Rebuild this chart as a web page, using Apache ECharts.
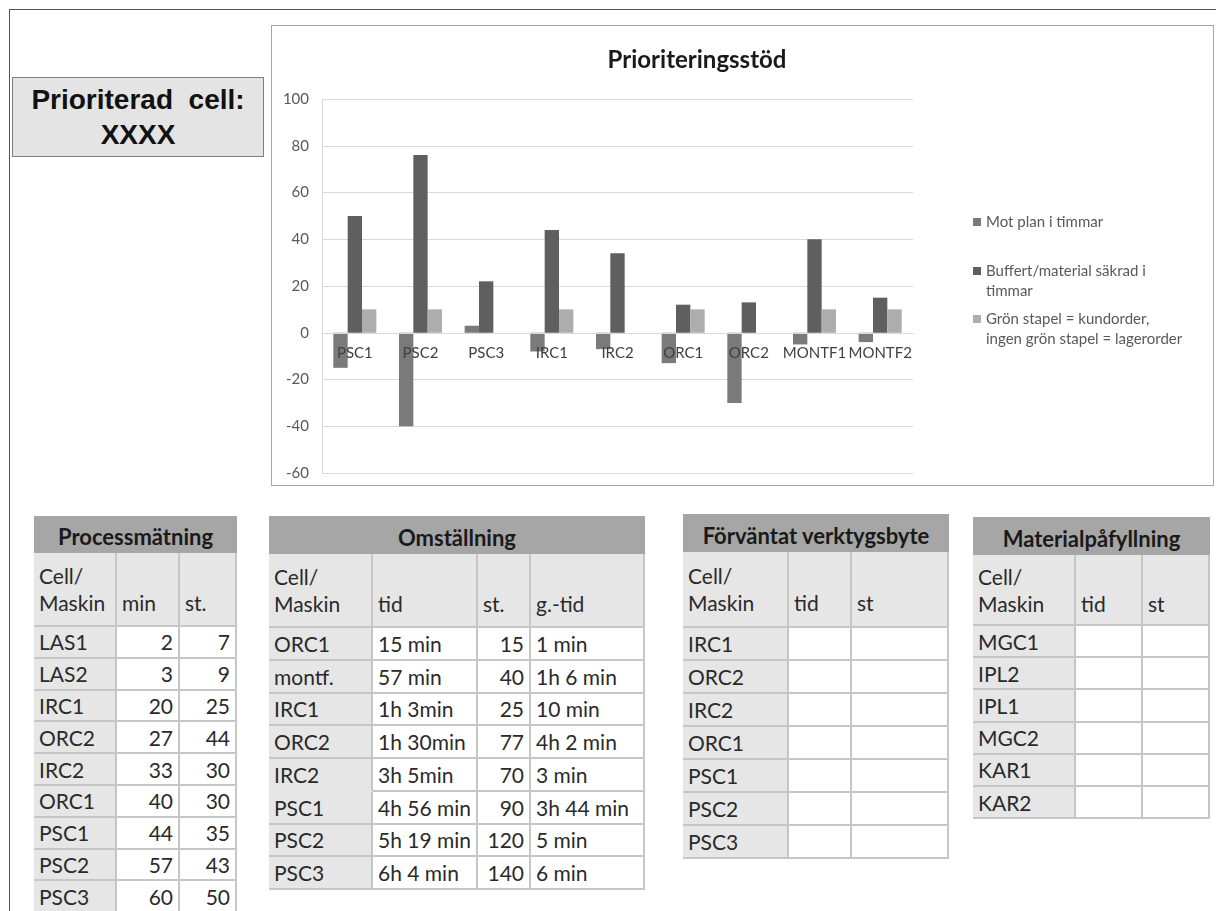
<!DOCTYPE html>
<html><head><meta charset="utf-8">
<script src="https://cdn.jsdelivr.net/npm/echarts@6.0.0/dist/echarts.min.js"></script>
<style>
html,body{margin:0;padding:0;background:#fff;width:1216px;height:911px;overflow:hidden;font-family:Lato,"Open Sans",sans-serif;}
#frame{position:absolute;left:9px;top:9px;width:1300px;height:1000px;border-top:1px solid #555;border-left:1px solid #555;}
#prio{position:absolute;left:12px;top:77px;width:250px;height:78px;background:#e4e4e4;border:1px solid #808080;font-family:"Liberation Sans",Arial,sans-serif;font-weight:bold;font-size:28px;line-height:35px;color:#111;display:flex;align-items:center;justify-content:center;text-align:center;white-space:pre;}
#chartbox{position:absolute;left:271px;top:25px;width:941px;height:459px;border:1px solid #a6a6a6;pointer-events:none;}
#chart{position:absolute;left:271px;top:25px;width:943px;height:461px;}
.cell{position:absolute;box-sizing:border-box;border-right:2px solid #c6c6c6;border-bottom:2px solid #c6c6c6;display:flex;align-items:center;padding:0 5px;white-space:nowrap;overflow:hidden;font-size:21px;color:#2a2a2a;line-height:27px;}
.hd,.fc{background:#e6e6e6;}
.dt{background:#fff;}
.r{justify-content:flex-end;}
.ttl{position:absolute;box-sizing:border-box;background:#a6a6a6;display:flex;align-items:center;justify-content:center;font-weight:bold;font-size:22px;color:#1a1a1a;padding-top:4px;white-space:nowrap;}
.tbox{position:absolute;box-sizing:border-box;border-left:2px solid #c6c6c6;}
</style>
</head>
<body>
<div id="frame"></div>
<div id="prio"></div>
<div id="chart"></div>
<div id="chartbox"></div>
<div id="tables"></div>
<script>
// ---- chart data ----
const categories = ['PSC1','PSC2','PSC3','IRC1','IRC2','ORC1','ORC2','MONTF1','MONTF2'];
const motPlan = [-15,-40,3,-8,-7,-13,-30,-5,-4];
const buffert = [50,76,22,44,34,12,13,40,15];
const gronStapel = [10,10,null,10,null,10,null,10,10];
const seriesNames = ['Mot plan i timmar','Buffert/material säkrad i timmar','Grön stapel = kundorder, ingen grön stapel = lagerorder'];
const legendLines = [['Mot plan i timmar'],['Buffert/material säkrad i','timmar'],['Grön stapel = kundorder,','ingen grön stapel = lagerorder']];
const chartTitle = 'Prioriteringsstöd';
const yMin = -60, yMax = 100, yStep = 20;

// ---- table data ----
const prioText = 'Prioriterad  cell:\nXXXX';
const procTitle = 'Processmätning';
const procHeaders = ['Cell/\nMaskin','min','st.'];
const procCells = ['LAS1','LAS2','IRC1','ORC2','IRC2','ORC1','PSC1','PSC2','PSC3'];
const procMin = [2,3,20,27,33,40,44,57,60];
const procSt = [7,9,25,44,30,30,35,43,50];

const omsTitle = 'Omställning';
const omsHeaders = ['Cell/\nMaskin','tid','st.','g.-tid'];
const omsCells = ['ORC1','montf.','IRC1','ORC2','IRC2','PSC1','PSC2','PSC3'];
const omsTid = ['15 min','57 min','1h 3min','1h 30min','3h 5min','4h 56 min','5h 19 min','6h 4 min'];
const omsSt = [15,40,25,77,70,90,120,140];
const omsGtid = ['1 min','1h 6 min','10 min','4h 2 min','3 min','3h 44 min','5 min','6 min'];

const verkTitle = 'Förväntat verktygsbyte';
const verkHeaders = ['Cell/\nMaskin','tid','st'];
const verkCells = ['IRC1','ORC2','IRC2','ORC1','PSC1','PSC2','PSC3'];

const matTitle = 'Materialpåfyllning';
const matHeaders = ['Cell/\nMaskin','tid','st'];
const matCells = ['MGC1','IPL2','IPL1','MGC2','KAR1','KAR2'];

document.getElementById('prio').textContent = prioText;

// ---- tables ----
function buildTable(cfg){
  const root = document.getElementById('tables');
  const total = cfg.cols.reduce((a,b)=>a+b,0);
  const t = document.createElement('div');
  t.className='ttl';
  Object.assign(t.style,{left:cfg.left+'px',top:cfg.top+'px',width:total+'px',height:cfg.titleH+'px'});
  t.textContent = cfg.title;
  root.appendChild(t);
  const box = document.createElement('div');
  box.className='tbox';
  const bodyTop = cfg.top+cfg.titleH;
  const bodyH = cfg.headH + cfg.rowH*cfg.rows.length;
  Object.assign(box.style,{left:cfg.left+'px',top:bodyTop+'px',width:total+'px',height:bodyH+'px'});
  root.appendChild(box);
  function add(x,y,w,h,text,cls,noBottom){
    const d=document.createElement('div');
    d.className='cell '+cls;
    Object.assign(d.style,{left:x+'px',top:y+'px',width:w+'px',height:h+'px'});
    if(noBottom) d.style.borderBottomColor='#e6e6e6';
    d.innerHTML = text;
    root.appendChild(d);
  }
  let x=cfg.left;
  cfg.headers.forEach((h,i)=>{
    const parts=h.split('\n');
    const txt = parts.length>1 ? parts.join('<br>') : '&nbsp;<br>'+h;
    add(x,bodyTop,cfg.cols[i],cfg.headH,txt,'hd');
    x+=cfg.cols[i];
  });
  cfg.rows.forEach((row,r)=>{
    let xx=cfg.left;
    const y = bodyTop+cfg.headH+r*cfg.rowH;
    row.forEach((v,i)=>{
      const cls = i===0 ? 'fc' : ('dt'+(cfg.align[i]==='r'?' r':''));
      const nb = i===0 && cfg.merge && cfg.merge.includes(r);
      add(xx,y,cfg.cols[i],cfg.rowH,v===null||v===undefined?'':String(v),cls,nb);
      xx+=cfg.cols[i];
    });
  });
}
buildTable({left:34,top:516,cols:[83,63,57],titleH:37,headH:74,rowH:31.8,title:procTitle,headers:procHeaders,
  rows:procCells.map((c,i)=>[c,procMin[i],procSt[i]]),align:['l','r','r']});
buildTable({left:269,top:516,cols:[104,105,53,114],titleH:38,headH:74,rowH:32.75,title:omsTitle,headers:omsHeaders,
  rows:omsCells.map((c,i)=>[c,omsTid[i],omsSt[i],omsGtid[i]]),align:['l','l','r','l'],merge:[4]});
buildTable({left:683,top:514,cols:[106,63,97],titleH:38,headH:76,rowH:33,title:verkTitle,headers:verkHeaders,
  rows:verkCells.map(c=>[c,'','']),align:['l','l','l']});
buildTable({left:973,top:517,cols:[103,67,67],titleH:38,headH:71,rowH:32.2,title:matTitle,headers:matHeaders,
  rows:matCells.map(c=>[c,'','']),align:['l','l','l']});

// ---- chart ----
const chart = echarts.init(document.getElementById('chart'), null, {renderer:'canvas'});
const colors = ['#7a7a7a','#5f5f5f','#adadad'];
const legendTops = [187,216,264];
chart.setOption({
  animation:false,
  textStyle:{fontFamily:'Lato'},
  title:{text:chartTitle,left:426,top:23,textAlign:'center',padding:0,
    textStyle:{fontSize:24,fontWeight:'bold',color:'#1a1a1a',fontFamily:'Lato'}},
  grid:{left:51,right:301,top:74,bottom:13,containLabel:false,outerBoundsMode:'none'},
  legend:[0,1,2].map(i=>({
    data:[seriesNames[i]],orient:'vertical',left:702,top:legendTops[i],padding:0,
    icon:'rect',itemWidth:8,itemHeight:8,itemGap:0,selectedMode:false,
    // extra blank line on top so the marker sits beside the first text line
    formatter:()=>(legendLines[i].length>1 ? ' \n' : '')+legendLines[i].join('\n'),
    textStyle:{fontSize:15,color:'#595959',lineHeight:20,fontFamily:'Lato'}
  })),
  xAxis:{type:'category',data:categories,z:5,
    axisLine:{onZero:true,lineStyle:{color:'#d9d9d9'}},axisTick:{show:false},
    axisLabel:{color:'#404040',fontSize:15,margin:-127,interval:0,fontFamily:'Lato'}},
  yAxis:{type:'value',min:yMin,max:yMax,interval:yStep,
    axisLine:{show:true,lineStyle:{color:'#d9d9d9'}},
    splitLine:{lineStyle:{color:'#d9d9d9'}},
    axisLabel:{color:'#595959',fontSize:15,margin:13,fontFamily:'Lato'}},
  series:[
    {type:'bar',name:seriesNames[0],data:motPlan,itemStyle:{color:colors[0]},barGap:'0%',barCategoryGap:'34.5%'},
    {type:'bar',name:seriesNames[1],data:buffert,itemStyle:{color:colors[1]},barGap:'0%',barCategoryGap:'34.5%'},
    {type:'bar',name:seriesNames[2],data:gronStapel,itemStyle:{color:colors[2]},barGap:'0%',barCategoryGap:'34.5%'}
  ]
});
</script>
</body></html>
